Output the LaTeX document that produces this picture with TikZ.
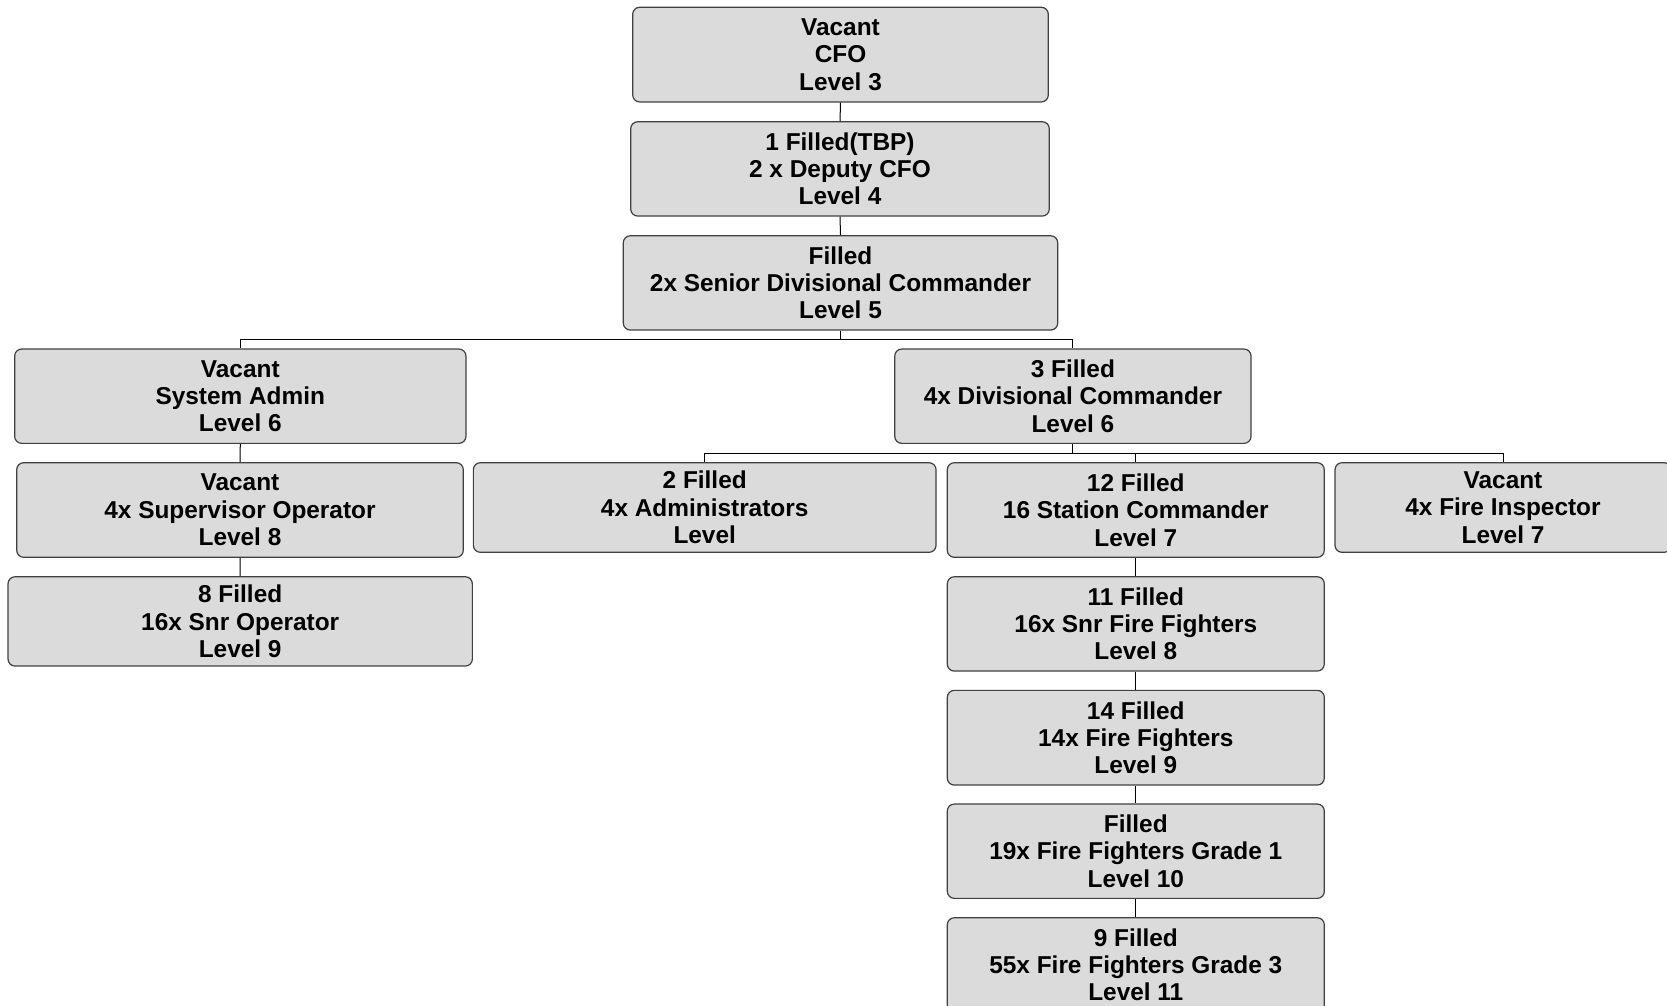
\documentclass[tikz,border=0pt]{standalone}
\usepackage{fontspec}
\setmainfont{Liberation Sans}
\begin{document}
\begin{tikzpicture}[x=1pt,y=-1pt,
  post/.style={draw=black!75, fill=black!14, line width=1.2pt, rounded corners=7pt,
    inner sep=0pt, align=center, font=\bfseries\fontsize{24.4}{27.3}\selectfont},
  link/.style={draw=black, line width=1pt}]
\useasboundingbox (0,0) rectangle (1667,1005);
\clip (0,0) rectangle (1667,1005);

% top chain
\node[post, minimum width=415.6, minimum height=94.7] (cfo) at (840.5,54.6) {Vacant\\CFO\\Level 3};
\node[post, minimum width=418.6, minimum height=94.3] (dep) at (840,168.9) {1 Filled(TBP)\\2 x Deputy CFO\\Level 4};
\node[post, minimum width=434.4, minimum height=94.3] (sdc) at (840.5,282.9) {Filled\\2x Senior Divisional Commander\\Level 5};

% second tier
\node[post, minimum width=451.3, minimum height=94.3] (sys) at (240.3,396.2) {Vacant\\System Admin\\Level 6};
\node[post, minimum width=356.3, minimum height=94.3] (div) at (1072.9,396.2) {3 Filled\\4x Divisional Commander\\Level 6};

% operators branch
\node[post, minimum width=446.6, minimum height=94.6] (sup) at (240,510) {Vacant\\4x Supervisor Operator\\Level 8};
\node[post, minimum width=464.3, minimum height=89.3] (snrop) at (240.2,621.4) {8 Filled\\16x Snr Operator\\Level 9};

% divisional branch
\node[post, minimum width=462.7, minimum height=89.6] (adm) at (704.7,507.5) {2 Filled\\4x Administrators\\Level};
\node[post, minimum width=377, minimum height=94.6] (stn) at (1135.8,510) {12 Filled\\16 Station Commander\\Level 7};
\node[post, minimum width=336, minimum height=89.6] (fi) at (1503,507.5) {Vacant\\4x Fire Inspector\\Level 7};

% fire fighters column
\node[post, minimum width=377, minimum height=94.3] (snrff) at (1135.8,623.9) {11 Filled\\16x Snr Fire Fighters\\Level 8};
\node[post, minimum width=377, minimum height=94.7] (ff) at (1135.8,737.7) {14 Filled\\14x Fire Fighters\\Level 9};
\node[post, minimum width=377, minimum height=94.3] (g1) at (1135.8,851.2) {Filled\\19x Fire Fighters Grade 1\\Level 10};
\node[post, minimum width=377, minimum height=94.3] (g3) at (1135.8,964.9) {9 Filled\\55x Fire Fighters Grade 3\\Level 11};

% connectors
\draw[link] (cfo.south) -- (dep.north);
\draw[link] (dep.south) -- (sdc.north);
\draw[link] (sdc.south) -- ++(0,9) -| (sys.north);
\draw[link] (sdc.south) -- ++(0,9) -| (div.north);
\draw[link] (sys.south) -- (sup.north);
\draw[link] (sup.south) -- (snrop.north);
\draw[link] (div.south) -- ++(0,10) -| (adm.north);
\draw[link] (div.south) -- ++(0,10) -| (stn.north);
\draw[link] (div.south) -- ++(0,10) -| (fi.north);
\draw[link] (stn.south) -- (snrff.north);
\draw[link] (snrff.south) -- (ff.north);
\draw[link] (ff.south) -- (g1.north);
\draw[link] (g1.south) -- (g3.north);
\end{tikzpicture}
\end{document}
